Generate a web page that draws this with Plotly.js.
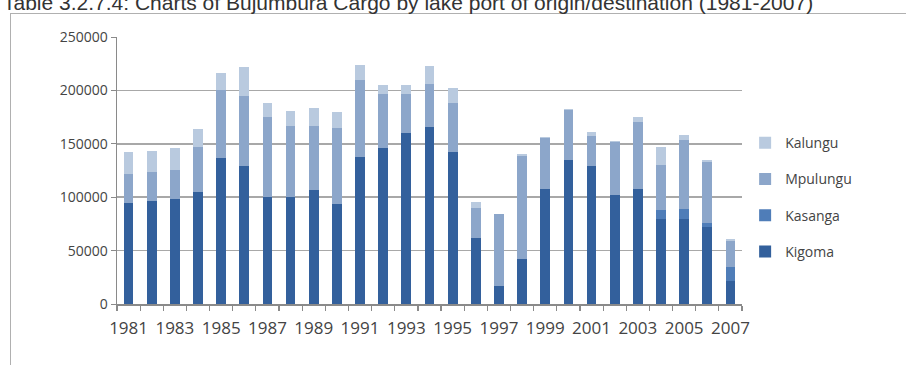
<!DOCTYPE html>
<html><head><meta charset="utf-8">
<script src="https://cdn.plot.ly/plotly-3.0.1.min.js"></script>
<style>
html,body{margin:0;padding:0;background:#fff;overflow:hidden;}
#frame{position:absolute;left:10px;top:13px;width:900px;height:360px;border:1.5px solid #b0b0b0;box-sizing:border-box;}
#chart{position:absolute;left:0;top:0;width:906px;height:365px;}
</style></head>
<body>
<div id="frame"></div>
<div id="chart"></div>
<script>
const years = [1981,1982,1983,1984,1985,1986,1987,1988,1989,1990,1991,1992,1993,1994,1995,1996,1997,1998,1999,2000,2001,2002,2003,2004,2005,2006,2007];
const kigoma   = [95000,96000,98000,104500,136500,129000,100000,100000,107000,93500,138000,146000,160000,166000,142000,62000,17000,42500,108000,135000,129500,102500,108000,80000,80000,72000,22000];
const kasanga  = [0,0,0,0,0,0,0,0,0,0,0,0,0,0,0,0,0,0,0,0,0,0,0,8000,9000,4000,13000];
const mpulungu = [27000,28000,27500,42500,64000,65500,75500,66500,60000,71000,71500,51000,37000,40000,46000,28000,67000,96500,47000,47000,28000,49500,62000,42500,65000,57000,24000];
const kalungu  = [20000,19500,20500,17000,16000,27000,13000,14000,16500,15500,14500,8000,8000,16500,14000,5500,0,1000,1000,1000,4000,1000,5500,16500,4000,1500,2000];
const labelYears = [1981,1983,1985,1987,1989,1991,1993,1995,1997,1999,2001,2003,2005,2007];
const yTicks = [0,50000,100000,150000,200000,250000];

const series = [
  {name:'Kigoma', y:kigoma, color:'#33609c', rank:4},
  {name:'Kasanga', y:kasanga, color:'#4f7db8', rank:3},
  {name:'Mpulungu', y:mpulungu, color:'#8ca6ca', rank:2},
  {name:'Kalungu', y:kalungu, color:'#b9cadf', rank:1}
];
const traces = series.map(s => ({
  type:'bar', x:years, y:s.y, name:s.name, legendgroup:s.name, legendrank:s.rank,
  marker:{color:s.color, line:{width:0}}, hoverinfo:'x+y+name'
}));

const layout = {
  width:906, height:365,
  margin:{l:117, r:164, t:37, b:61},
  paper_bgcolor:'rgba(0,0,0,0)', plot_bgcolor:'rgba(0,0,0,0)',
  barmode:'stack', bargap:0.58,
  font:{family:'"Open Sans", sans-serif', color:'#444'},
  showlegend:true,
  legend:{x:1.005, y:0.40, xanchor:'left', yanchor:'middle', traceorder:'grouped', tracegroupgap:15,
          font:{size:14, color:'#444'}, bgcolor:'rgba(0,0,0,0)'},
  xaxis:{type:'linear', range:[1980.5,2007.5], tickvals:labelYears, ticktext:labelYears.map(String),
         ticks:'', showgrid:false, zeroline:false, showline:true, linecolor:'#8a8a8a', linewidth:1.5,
         tickfont:{size:17, color:'#444'}, ticklabelstandoff:8,
         minor:{ticks:'outside', tick0:1980.5, dtick:1, ticklen:5, tickcolor:'#8a8a8a', tickwidth:1.2, showgrid:false}},
  yaxis:{range:[0,250000], tickvals:yTicks, ticktext:yTicks.map(String), showgrid:true, gridcolor:'#a8a8a8', gridwidth:1.5,
         zeroline:false, showline:true, linecolor:'#8a8a8a', linewidth:1.5,
         ticks:'outside', ticklen:5, tickcolor:'#8a8a8a', tickfont:{size:14, color:'#444'}},
  annotations:[{text:'Table 3.2.7.4: Charts of Bujumbura Cargo by lake port of origin/destination (1981-2007)',
    xref:'paper', yref:'paper', x:-0.185, y:1.128, xanchor:'left', yanchor:'middle', showarrow:false,
    font:{family:'"Liberation Sans", Arial, sans-serif', size:21, color:'#333'}}]
};
Plotly.newPlot('chart', traces, layout, {displayModeBar:false, staticPlot:true});
</script>
</body></html>
